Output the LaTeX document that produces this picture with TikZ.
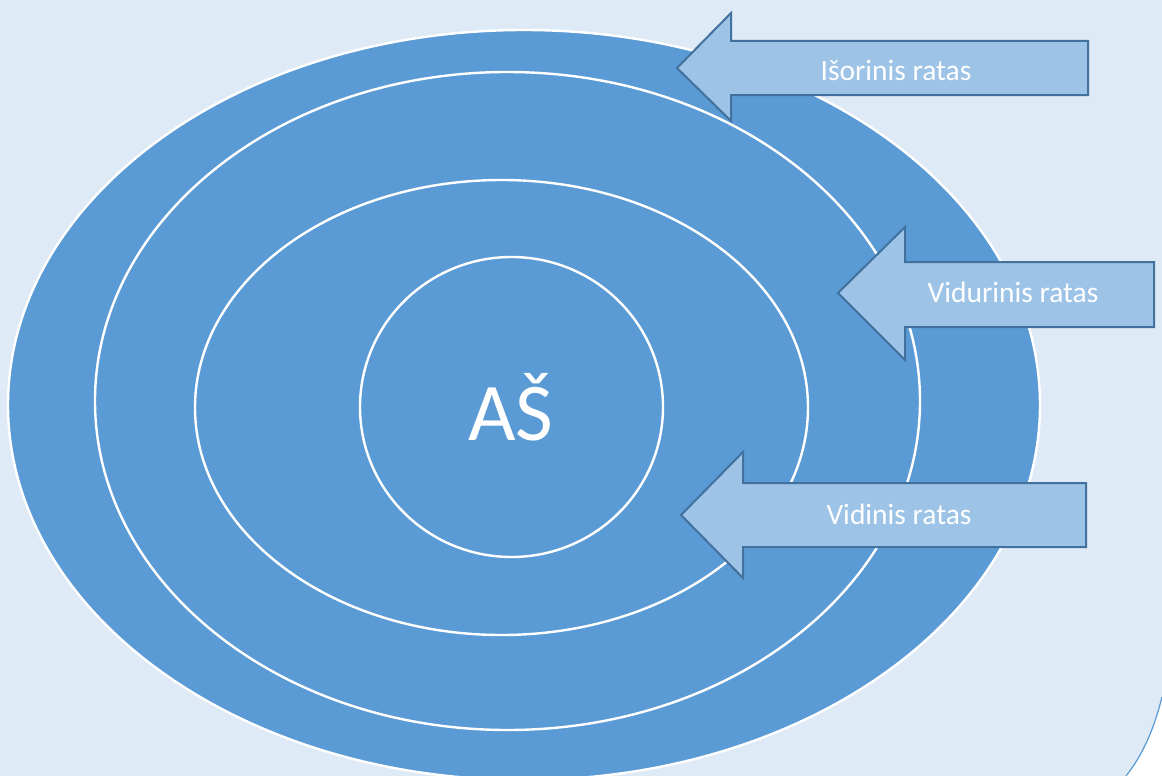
\documentclass[tikz,border=0pt]{standalone}
\usepackage{fontspec}
\setmainfont{Carlito}
\definecolor{bgblue}{HTML}{DEEAF6}
\definecolor{ringblue}{HTML}{5B9BD5}
\definecolor{arrfill}{HTML}{9DC3E6}
\definecolor{arrline}{HTML}{41719C}
\tikzset{
  ring/.style={fill=ringblue, draw=white, line width=2.4pt},
  blockarrow/.style={fill=arrfill, draw=arrline, line width=2pt, line join=miter},
  lbl/.style={text=white, font=\fontsize{29.5}{33}\selectfont, inner sep=0pt},
}
\begin{document}
\begin{tikzpicture}[x=1pt,y=-1pt]
\useasboundingbox (0,0) rectangle (1162,776);
\fill[white] (0,0) rectangle (1162,776);
\fill[bgblue] (0,0) -- (1162,0) -- (1162,697) .. controls (1153,733) and (1141,757) .. (1126,776) -- (0,776) -- cycle;
\draw[ringblue, line width=1.2pt] (1162,697) .. controls (1153,733) and (1141,757) .. (1126,776);
% rings
\path[ring] (524,405) ellipse [x radius=516pt, y radius=375pt];
\path[ring] (507.5,401) ellipse [x radius=412.5pt, y radius=329pt];
\path[ring] (501.5,407.5) ellipse [x radius=306.5pt, y radius=227.5pt];
\path[ring] (511.5,407) ellipse [x radius=151.5pt, y radius=150pt];
\node[text=white, font=\fontsize{82}{90}\selectfont, inner sep=0pt] (me) at (511,407) {AŠ};
% arrows
\path[blockarrow] (677,68) -- (731,13) -- (731,41) -- (1088,41) -- (1088,95) -- (731,95) -- (731,121) -- cycle;
\node[lbl] (outer) at (896,70) {Išorinis ratas};
\path[blockarrow] (838,293) -- (905,227) -- (905,262) -- (1154,262) -- (1154,327) -- (905,327) -- (905,360) -- cycle;
\node[lbl] (middle) at (1013,292) {Vidurinis ratas};
\path[blockarrow] (681,515) -- (743,452) -- (743,483) -- (1086,483) -- (1086,547) -- (743,547) -- (743,578) -- cycle;
\node[lbl] (inner) at (899,514) {Vidinis ratas};
\end{tikzpicture}
\end{document}
